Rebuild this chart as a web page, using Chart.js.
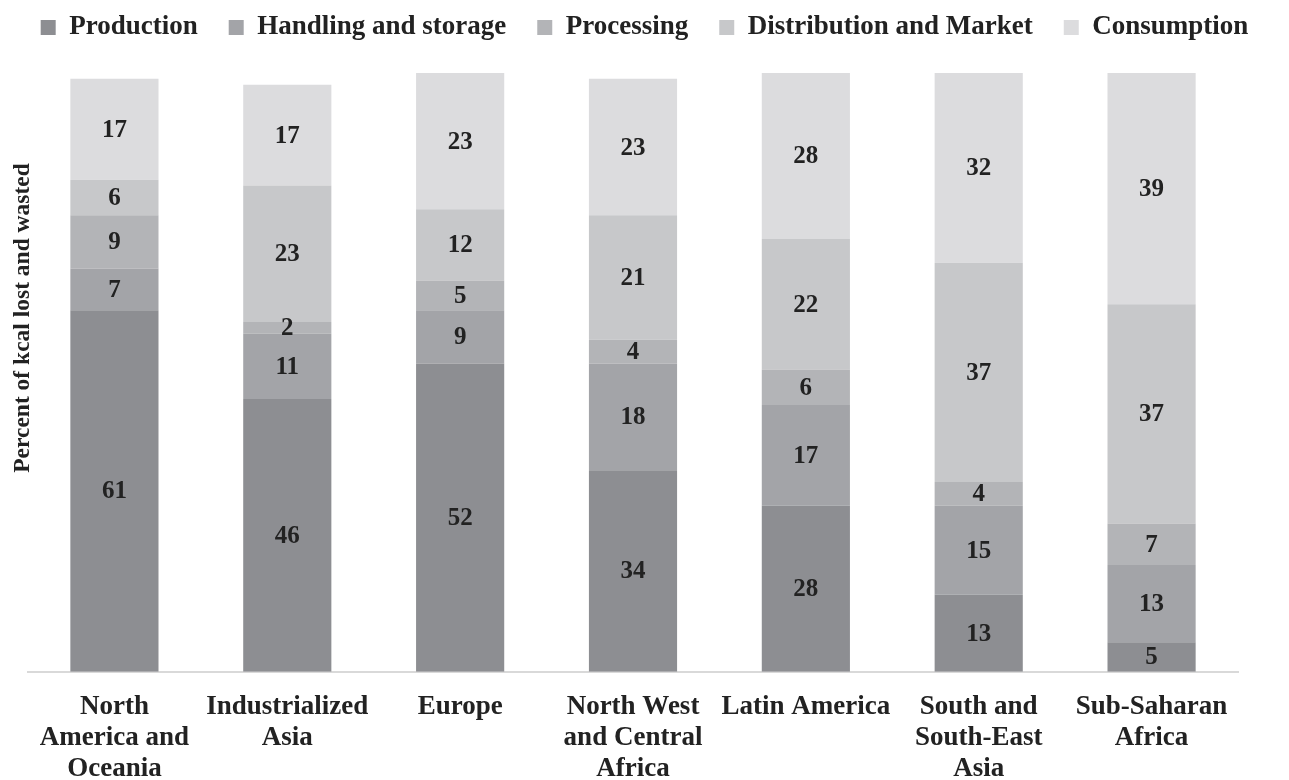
<!DOCTYPE html>
<html>
<head>
<meta charset="utf-8">
<script src="https://cdn.jsdelivr.net/npm/chart.js@4"></script>
<style>
  html, body { margin: 0; padding: 0; background: #fff; }
  #wrap { width: 1289px; height: 780px; }
</style>
</head>
<body>
<div id="wrap"><canvas id="loss"></canvas></div>
<script>
// regions (x axis)
const regions = [
    ['North', 'America and', 'Oceania'],
    ['Industrialized', 'Asia'],
    'Europe',
    ['North West', 'and Central', 'Africa'],
    'Latin America',
    ['South and', 'South-East', 'Asia'],
    ['Sub-Saharan', 'Africa']
];
// stages, percent of kcal lost and wasted
const production   = [61, 46, 52, 34, 28, 13, 5];
const handling     = [7, 11, 9, 18, 17, 15, 13];
const processing   = [9, 2, 5, 4, 6, 4, 7];
const distribution = [6, 23, 12, 21, 22, 37, 37];
const consumption  = [17, 17, 23, 23, 28, 32, 39];
const yTitle = 'Percent of kcal lost and wasted';

const serif = "'Liberation Serif', 'Times New Roman', serif";
const ink = '#222';
const yMax = 104.7;

// value labels in the middle of each segment + rotated y title
const segLabels = {
    id: 'segLabels',
    afterDatasetsDraw(chart) {
        const ctx = chart.ctx;
        ctx.save();
        ctx.font = 'bold 25px ' + serif;
        ctx.fillStyle = ink;
        ctx.textAlign = 'center';
        ctx.textBaseline = 'middle';
        chart.data.datasets.forEach((ds, i) => {
            chart.getDatasetMeta(i).data.forEach((bar, j) => {
                ctx.fillText(ds.data[j], bar.x, (bar.y + bar.base) / 2 + 1);
            });
        });
        // y title
        ctx.translate(23, 318);
        ctx.rotate(-Math.PI / 2);
        ctx.font = 'bold 23.5px ' + serif;
        ctx.fillText(yTitle, 0, 0);
        ctx.restore();
    }
};

// empty side axes just to hold the margins
function sideAxis(pos, w) {
    return {
        position: pos,
        stacked: true,
        min: 0,
        max: yMax,
        grid: { display: false },
        border: { display: false },
        ticks: { display: false },
        afterFit: (scale) => { scale.width = w; }
    };
}

const loss = document.getElementById('loss').getContext('2d');
const lossChart = new Chart(loss, {
    type: 'bar',
    data: {
        labels: regions,
        datasets: [
            { label: 'Production', data: production, backgroundColor: '#8d8e92' },
            { label: 'Handling and storage', data: handling, backgroundColor: '#a3a4a8' },
            { label: 'Processing', data: processing, backgroundColor: '#b3b4b7' },
            { label: 'Distribution and Market', data: distribution, backgroundColor: '#c7c8ca' },
            { label: 'Consumption', data: consumption, backgroundColor: '#dcdcde' }
        ]
    },
    options: {
        responsive: true,
        maintainAspectRatio: false,
        animation: false,
        datasets: {
            bar: { barPercentage: 1, categoryPercentage: 0.51 }
        },
        layout: { padding: { left: 0, right: 0, top: -17, bottom: -17 } },
        plugins: {
            legend: {
                position: 'top',
                labels: {
                    boxWidth: 15,
                    boxHeight: 15,
                    padding: 31,
                    color: ink,
                    font: { family: serif, size: 27, weight: 'bold' }
                }
            },
            tooltip: { enabled: false }
        },
        scales: {
            x: {
                stacked: true,
                grid: { display: false },
                border: { color: '#d9d9d9', width: 2 },
                ticks: {
                    color: ink,
                    autoSkip: false,
                    maxRotation: 0,
                    padding: 12,
                    font: { family: serif, size: 27, weight: 'bold', lineHeight: 1.15 }
                }
            },
            y: sideAxis('left', 28),
            yr: sideAxis('right', 51)
        }
    },
    plugins: [segLabels]
});
</script>
</body>
</html>
